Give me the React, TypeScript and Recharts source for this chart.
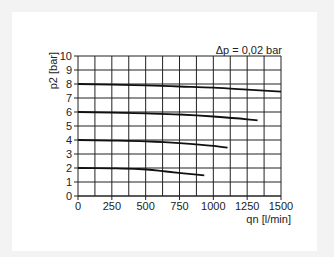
import React from "react";
import {
  LineChart,
  Line,
  XAxis,
  YAxis,
  CartesianGrid,
  ReferenceLine,
} from "recharts";

// flow qn [l/min] and outlet pressure p2 [bar] for each set pressure
const flow8 = [0, 250, 500, 750, 1000, 1250, 1500];
const p2At8 = [8.0, 7.96, 7.9, 7.82, 7.74, 7.6, 7.45];

const flow6 = [0, 250, 500, 750, 1000, 1250, 1327];
const p2At6 = [6.0, 5.96, 5.9, 5.82, 5.68, 5.48, 5.4];

const flow4 = [0, 250, 500, 750, 1000, 1105];
const p2At4 = [4.0, 3.96, 3.9, 3.78, 3.58, 3.45];

const flow2 = [0, 250, 450, 650, 800, 933];
const p2At2 = [2.0, 1.98, 1.93, 1.75, 1.6, 1.47];

const xTicks = [0, 250, 500, 750, 1000, 1250, 1500];
const xGrid = [125, 250, 375, 500, 625, 750, 875, 1000, 1125, 1250, 1375, 1500];
const yTicks = [0, 1, 2, 3, 4, 5, 6, 7, 8, 9, 10];

const toRows = (xs: number[], ys: number[]) =>
  xs.map((qn, i) => ({ qn, p2: ys[i] }));

const curves = [
  toRows(flow8, p2At8),
  toRows(flow6, p2At6),
  toRows(flow4, p2At4),
  toRows(flow2, p2At2),
];

const font = "'Liberation Sans Narrow', 'Arial Narrow', Arial, sans-serif";
const ink = "#222";

export default function App() {
  return (
    <div
      style={{
        position: "fixed",
        left: 0,
        top: 0,
        width: 334,
        height: 257,
        background: "#f3f3f3",
        fontFamily: font,
      }}
    >
      <div
        style={{
          position: "absolute",
          left: 12,
          top: 12,
          width: 305,
          height: 239,
          background: "#fff",
        }}
      >
        <LineChart
          width={305}
          height={239}
          margin={{ top: 44, right: 36, bottom: 25, left: 46 }}
        >
          <CartesianGrid vertical={false} stroke={ink} strokeWidth={1} />
          {xGrid.map((v) => (
            <ReferenceLine key={v} x={v} stroke={ink} strokeWidth={1} />
          ))}
          <XAxis
            type="number"
            dataKey="qn"
            domain={[0, 1500]}
            ticks={xTicks}
            interval={0}
            height={30}
            tickSize={4}
            stroke={ink}
            tick={{ fill: ink, fontSize: 11, fontFamily: font }}
            allowDuplicatedCategory={false}
          />
          <YAxis
            type="number"
            dataKey="p2"
            domain={[0, 10]}
            ticks={yTicks}
            interval={0}
            width={20}
            tickSize={4}
            stroke={ink}
            tick={{ fill: ink, fontSize: 11, fontFamily: font }}
          />
          {curves.map((d, i) => (
            <Line
              key={i}
              data={d}
              dataKey="p2"
              type="monotone"
              stroke="#111"
              strokeWidth={1.8}
              dot={false}
              isAnimationActive={false}
            />
          ))}
        </LineChart>
      </div>
      <div
        style={{
          position: "absolute",
          right: 334 - 282,
          top: 44,
          fontSize: 11,
          color: ink,
          whiteSpace: "nowrap",
        }}
      >
        Δp = 0,02 bar
      </div>
      <div
        style={{
          position: "absolute",
          right: 334 - 291,
          top: 213,
          fontSize: 11,
          color: ink,
          whiteSpace: "nowrap",
        }}
      >
        qn [l/min]
      </div>
      <div
        style={{
          position: "absolute",
          left: 53,
          top: 52,
          fontSize: 11,
          color: ink,
          whiteSpace: "nowrap",
          transformOrigin: "0 0",
          transform: "rotate(-90deg) translate(-100%, -50%)",
        }}
      >
        p2 [bar]
      </div>
    </div>
  );
}
